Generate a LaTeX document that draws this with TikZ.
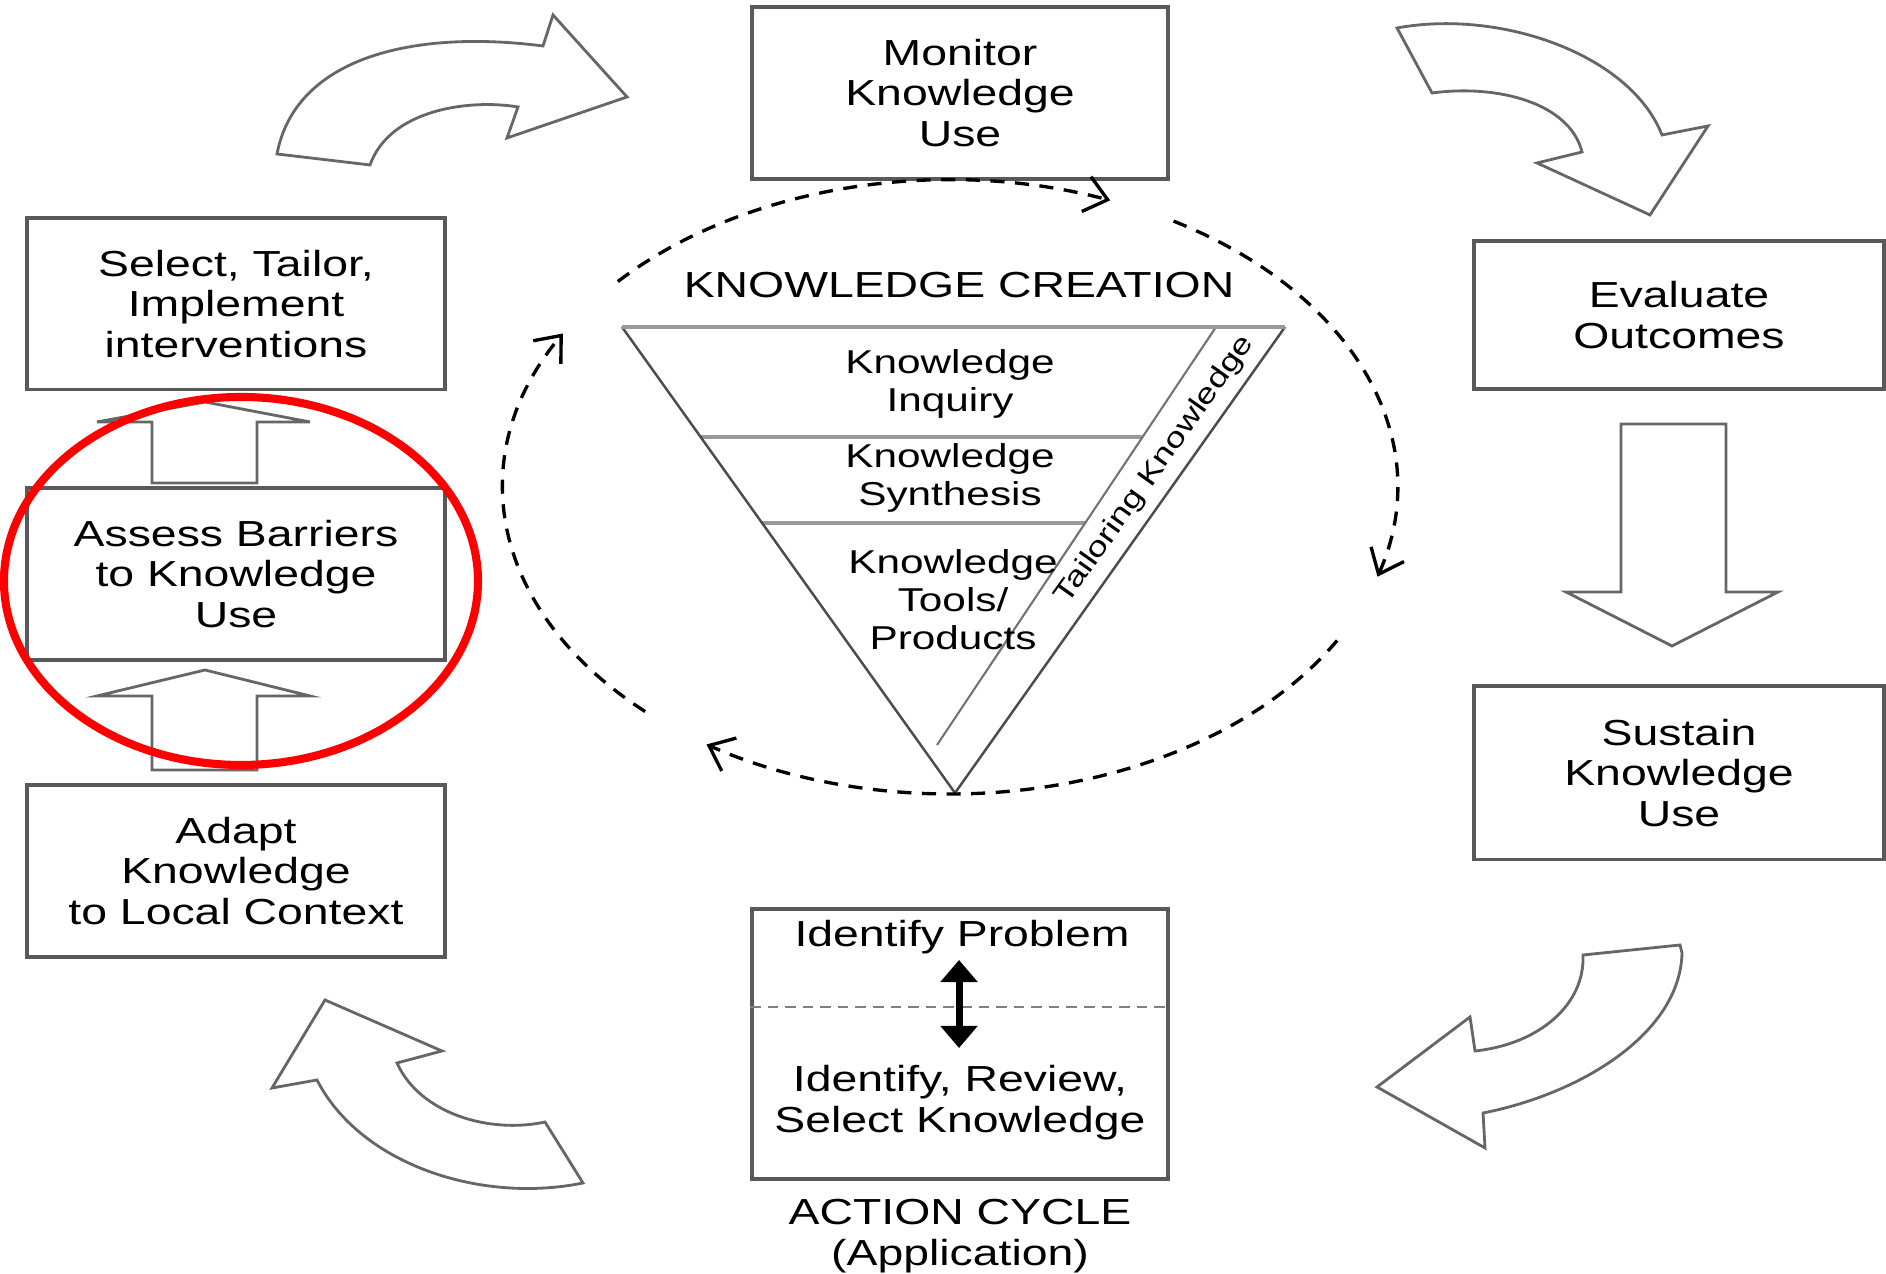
\documentclass[tikz,border=0pt]{standalone}
\usepackage{fontspec}
\setmainfont{Liberation Sans}[FakeStretch=1.28]
\usetikzlibrary{arrows.meta}
\begin{document}
\begin{tikzpicture}[x=0.01cm,y=0.01cm,
    box/.style={draw=black!65,line width=1.1pt,fill=white,minimum width=4.16cm,align=center,font=\fontsize{10.3}{11.6}\selectfont},
    blockarrow/.style={draw=black!60,line width=0.8pt,fill=white,line join=miter},
    cyclearc/.style={line width=0.95pt,dash pattern=on 4pt off 3pt,-{Straight Barb[length=2.2mm,width=3.6mm]}},
    sepline/.style={draw=black!50,line width=0.6pt,dash pattern=on 3pt off 2pt},
    triside/.style={draw=black!70,line width=0.7pt},
    triline/.style={draw=black!40,line width=1.3pt},
    lbl/.style={align=center,font=\fontsize{10.3}{11.6}\selectfont},
    inlbl/.style={align=center,font=\fontsize{9.4}{10.8}\selectfont}]
\useasboundingbox (0,0) rectangle (1886,1274);
\node[box,minimum height=1.72cm] (monitor) at (960,1181) {Monitor\\Knowledge\\Use};
\node[box,minimum width=4.18cm,minimum height=1.71cm] (select) at (236,970) {Select, Tailor,\\Implement\\interventions};
\node[box,minimum width=4.18cm,minimum height=1.72cm] (assess) at (236,700) {Assess Barriers\\to Knowledge\\Use};
\node[box,minimum width=4.18cm,minimum height=1.72cm] (adapt) at (236,403) {Adapt\\Knowledge\\to Local Context};
\node[box,minimum width=4.09cm,minimum height=1.48cm] (evaluate) at (1679,959) {Evaluate\\Outcomes};
\node[box,minimum width=4.09cm,minimum height=1.73cm] (sustain) at (1679,501) {Sustain\\Knowledge\\Use};
\node[box,minimum height=2.70cm] (identify) at (960,230) {};
\node[lbl] (problem) at (962,337) {Identify Problem};
\node[lbl] (review) at (960,171) {Identify, Review,\\Select Knowledge};
\node[lbl] (action) at (960,38) {ACTION CYCLE\\(Application)};
\draw[sepline] ([yshift=0.37cm]identify.west) -- ([yshift=0.37cm]identify.east);
\coordinate (qtop) at (959,314);
\coordinate (qbot) at (959,226);
\draw[line width=2pt,{Triangle[length=2.2mm,width=3.6mm]}-{Triangle[length=2.2mm,width=3.6mm]}] (qtop) -- (qbot);
\draw[blockarrow] (152,791) -- (152,852) -- (97,852) -- (205,872) -- (310,852) -- (257,852) -- (257,791) -- cycle;
\draw[blockarrow] (152,504) -- (152,578) -- (97,578) -- (205,604) -- (310,578) -- (257,578) -- (257,504) -- cycle;
\draw[blockarrow] (1621,850) -- (1621,682) -- (1566,682) -- (1672,628) -- (1778,682) -- (1726,682) -- (1726,850) -- cycle;
\draw[blockarrow] (277,1120) .. controls (295,1215) and (410,1245) .. (543,1228) -- (553,1259) -- (627,1177) -- (507,1136) -- (518,1167) .. controls (470,1175) and (390,1165) .. (370,1109) -- cycle;
\draw[blockarrow] (1397,1246) .. controls (1500,1265) and (1630,1220) .. (1662,1139) -- (1708,1148) -- (1650,1059) -- (1537,1111) -- (1582,1122) .. controls (1570,1170) and (1500,1190) .. (1432,1181) -- cycle;
\draw[blockarrow] (1680,329) -- (1583,319) .. controls (1585,270) and (1540,230) .. (1475,223) -- (1470,257) -- (1377,187) -- (1485,126) -- (1483,161) .. controls (1580,180) and (1680,240) .. (1682,321) -- cycle;
\draw[blockarrow] (272,186) -- (325,274) -- (442,223) -- (397,211) .. controls (420,160) and (490,140) .. (545,152) -- (583,91) .. controls (480,70) and (360,110) .. (317,194) -- cycle;
\coordinate (tl) at (622,947);
\coordinate (tr) at (1285,947);
\coordinate (apex) at (955,481);
\coordinate (tk) at (1216,947);
\coordinate (tkb) at (937,529);
\draw[triline] (701,837) -- (1142,837);
\draw[triline] (762,751) -- (1085,751);
\draw[black!55,line width=0.6pt] (tk) -- (tkb);
\draw[triside] (tl) -- (apex) -- (tr);
\draw[triline] (tl) -- (tr);
\node[lbl] (creation) at (959,989) {KNOWLEDGE CREATION};
\node[inlbl] (inquiry) at (950,890) {Knowledge\\Inquiry};
\node[inlbl] (synthesis) at (950,796) {Knowledge\\Synthesis};
\node[inlbl] (tools) at (953,674) {Knowledge\\Tools/\\Products};
\node[inlbl,font=\fontsize{8}{9.5}\selectfont,inner sep=0pt,rotate=54.5] (tailoring) at (1155,804) {Tailoring Knowledge};
\coordinate (ctr) at (950,787);
\draw[cyclearc] (ctr) ++(138:447 and 307) arc[start angle=138,end angle=69,x radius=447,y radius=307];
\draw[cyclearc] (ctr) ++(60:447 and 307) arc[start angle=60,end angle=-17,x radius=447,y radius=307];
\draw[cyclearc] (ctr) ++(-30:447 and 307) arc[start angle=-30,end angle=-123,x radius=447,y radius=307];
\draw[cyclearc] (ctr) ++(227:447 and 307) arc[start angle=227,end angle=150,x radius=447,y radius=307];
\draw[red,line width=2.3pt] (241,693) ellipse [x radius=237,y radius=184];
\end{tikzpicture}
\end{document}
